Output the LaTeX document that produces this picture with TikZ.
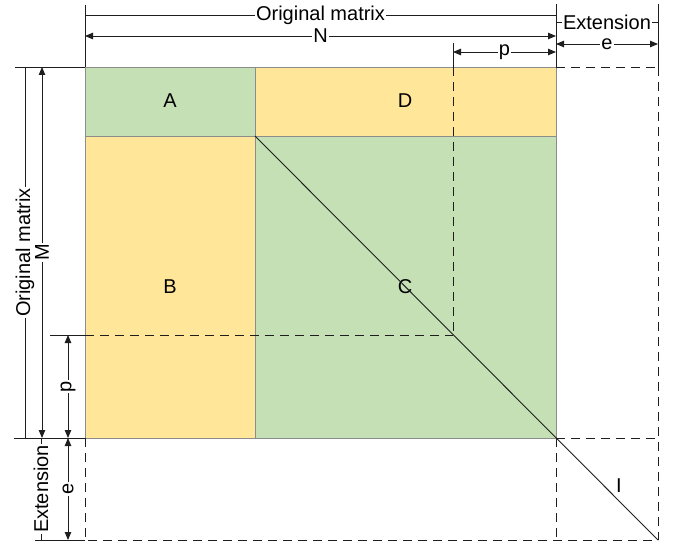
\documentclass[tikz,border=0pt]{standalone}
\usepackage{fontspec}
\setmainfont{Liberation Sans}
\usetikzlibrary{arrows.meta}
\definecolor{cellgreen}{HTML}{C5E0B4}
\definecolor{cellyellow}{HTML}{FFE699}
\definecolor{cellline}{HTML}{8C8C8C}
\definecolor{ink}{HTML}{1E1E1E}
\begin{document}
\begin{tikzpicture}[x=1pt,y=-1pt,
  font=\fontsize{20}{24}\selectfont,
  dimline/.style={draw=ink, line width=0.9pt, {Triangle[length=8pt,width=6.5pt]}-{Triangle[length=8pt,width=6.5pt]}},
  plainline/.style={draw=ink, line width=0.9pt},
  dashline/.style={draw=ink, line width=0.9pt, dash pattern=on 9pt off 6pt},
  lbl/.style={fill=white, inner sep=1pt},
  cell/.style={draw=cellline, line width=0.8pt},
  celllabel/.style={inner sep=0pt}
]
\useasboundingbox (0,0) rectangle (673,543);

% main corners
\coordinate (TL) at (85,67);
\coordinate (TM) at (255,67);
\coordinate (TR) at (556,67);
\coordinate (ML) at (85,136);
\coordinate (MM) at (255,136);
\coordinate (MR) at (556,136);
\coordinate (BL) at (85,438);
\coordinate (BM) at (255,438);
\coordinate (BR) at (556,438);
% extension corners
\coordinate (ETR) at (658,67);
\coordinate (EMR) at (658,438);
\coordinate (EBR) at (658,540);
\coordinate (EBM) at (556,540);
\coordinate (EBL) at (85,540);
% p guides
\coordinate (PT) at (453,67);
\coordinate (PL) at (85,335);
\coordinate (P) at (453,335);

% cells
\fill[cellgreen] (TL) rectangle (MM);
\fill[cellyellow] (TM) rectangle (MR);
\fill[cellyellow] (ML) rectangle (BM);
\fill[cellgreen] (MM) rectangle (BR);
\draw[cell] (TL) rectangle (MM);
\draw[cell] (TM) rectangle (MR);
\draw[cell] (ML) rectangle (BM);
\draw[cell] (MM) rectangle (BR);

\node[celllabel] (A) at (170,101) {A};
\node[celllabel] (D) at (405,101) {D};
\node[celllabel] (B) at (170,287) {B};
\node[celllabel] (C) at (405,287) {C};
\node[celllabel] (I) at (619,486) {I};

% extension dashed region
\draw[dashline] (TR) -- (ETR);
\draw[dashline] (ETR) -- (EBR);
\draw[dashline] (BL) -- (EBL) -- (EBR);
\draw[dashline] (BR) -- (EBM);
\draw[dashline] (BR) -- (EMR);
% p guides
\draw[dashline] (PT) -- (P);
\draw[dashline] (PL) -- (P);

% diagonal
\draw[plainline] (MM) -- (EBR);

% top extension lines
\coordinate (tx1) at (85,5);
\coordinate (tx2) at (556,4);
\coordinate (tx3) at (658,4);
\coordinate (tx4) at (453,43);
\draw[plainline] (tx1) -- (TL);
\draw[plainline] (tx2) -- (TR);
\draw[plainline] (tx3) -- (ETR);
\draw[plainline] (tx4) -- (PT);

% top dimensions
\coordinate (om1) at (85,15);  \coordinate (om2) at (556,15);
\coordinate (ex1) at (556,22); \coordinate (ex2) at (658,22);
\coordinate (n1) at (85,36);   \coordinate (n2) at (556,36);
\coordinate (e1) at (556,44);  \coordinate (e2) at (658,44);
\coordinate (p1) at (453,52);  \coordinate (p2) at (556,52);
\draw[plainline] (om1) -- node[lbl] (omt) {Original matrix} (om2);
\draw[plainline] (ex1) -- node[lbl] (ext) {Extension} (ex2);
\draw[dimline] (n1) -- node[lbl] (nt) {N} (n2);
\draw[dimline] (e1) -- node[lbl] (et) {e} (e2);
\draw[dimline] (p1) -- node[lbl] (pt) {p} (p2);

% left extension lines
\coordinate (lx1) at (15,67);
\coordinate (lx2) at (14,438);
\coordinate (lx3) at (35,540);
\coordinate (lx4) at (50,335);
\draw[plainline] (lx1) -- (TL);
\draw[plainline] (lx2) -- (BL);
\draw[plainline] (lx3) -- (EBL);
\draw[plainline] (lx4) -- (PL);

% left dimensions
\coordinate (lom1) at (25,438); \coordinate (lom2) at (25,67);
\coordinate (m1) at (42,67);    \coordinate (m2) at (42,438);
\coordinate (lp1) at (68,335);  \coordinate (lp2) at (68,438);
\coordinate (le1) at (68,438);  \coordinate (le2) at (68,540);
\coordinate (lex1) at (41,540); \coordinate (lex2) at (41,438);
\draw[plainline] (lom1) -- node[lbl, rotate=90] (lomt) {Original matrix} (lom2);
\draw[dimline] (m1) -- node[lbl, rotate=90] (mt) {M} (m2);
\draw[dimline] (lp1) -- node[lbl, rotate=90] (lpt) {p} (lp2);
\draw[dimline] (le1) -- node[lbl, rotate=90] (let) {e} (le2);
\draw[plainline] (lex1) -- node[lbl, rotate=90] (lext) {Extension} (lex2);
\end{tikzpicture}
\end{document}
